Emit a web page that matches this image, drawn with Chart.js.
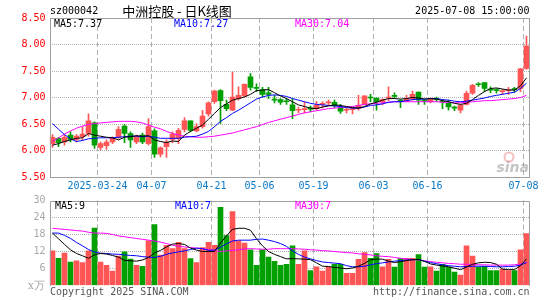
<!DOCTYPE html>
<html lang="zh">
<head>
<meta charset="UTF-8">
<title>中洲控股 - 日K线图</title>
<script src="https://cdn.jsdelivr.net/npm/chart.js@4"></script>
<style>
html,body{margin:0;padding:0;background:#fff}
#wrap{position:relative;width:545px;height:300px;overflow:hidden}
#wrap canvas{position:absolute;left:0;top:0}
</style>
</head>
<body>
<div id="wrap"><canvas id="kline" width="545" height="300"></canvas><canvas id="vol" width="545" height="300"></canvas></div>
<script>
const dates=['2025-03-12','2025-03-13','2025-03-14','2025-03-17','2025-03-18','2025-03-19','2025-03-20','2025-03-21','2025-03-24','2025-03-25',
'2025-03-26','2025-03-27','2025-03-28','2025-03-31','2025-04-01','2025-04-02','2025-04-03','2025-04-07','2025-04-08','2025-04-09',
'2025-04-10','2025-04-11','2025-04-14','2025-04-15','2025-04-16','2025-04-17','2025-04-18','2025-04-21','2025-04-22','2025-04-23',
'2025-04-24','2025-04-25','2025-04-28','2025-04-29','2025-04-30','2025-05-06','2025-05-07','2025-05-08','2025-05-09','2025-05-12',
'2025-05-13','2025-05-14','2025-05-15','2025-05-16','2025-05-19','2025-05-20','2025-05-21','2025-05-22','2025-05-23','2025-05-26',
'2025-05-27','2025-05-28','2025-05-29','2025-05-30','2025-06-03','2025-06-04','2025-06-05','2025-06-06','2025-06-09','2025-06-10',
'2025-06-11','2025-06-12','2025-06-13','2025-06-16','2025-06-17','2025-06-18','2025-06-19','2025-06-20','2025-06-23','2025-06-24',
'2025-06-25','2025-06-26','2025-06-27','2025-06-30','2025-07-01','2025-07-02','2025-07-03','2025-07-04','2025-07-07','2025-07-08'];

const open=[6.13,6.23,6.16,6.29,6.21,6.26,6.32,6.52,6.06,6.09, 6.16,6.25,6.46,6.32,6.16,6.29,6.13,6.37,5.93,6.07,
6.21,6.23,6.40,6.56,6.37,6.45,6.69,6.92,7.13,6.87, 6.76,6.98,7.03,7.39,7.19,7.15,7.09,6.96,6.96,6.93,
6.86,6.76,6.77,6.79,6.79,6.87,6.90,6.91,6.82,6.76, 6.77,6.79,6.87,7.00,6.99,6.92,6.99,7.03,6.94,6.94,
6.98,7.10,6.94,6.92,6.97,6.92,6.89,6.81,6.76,6.87, 7.08,7.25,7.28,7.15,7.14,7.11,7.13,7.16,7.17,7.55];
const close=[6.25,6.15,6.25,6.21,6.27,6.31,6.56,6.10,6.13,6.16, 6.23,6.40,6.32,6.20,6.26,6.16,6.45,5.93,6.05,6.16,
6.31,6.38,6.56,6.38,6.45,6.65,6.90,7.12,6.94,6.79, 7.01,7.04,7.25,7.19,7.17,7.06,7.06,6.95,6.91,6.92,
6.75,6.77,6.79,6.78,6.85,6.89,6.91,6.85,6.74,6.77, 6.78,6.85,7.03,6.99,6.92,6.96,7.00,7.02,6.93,6.98,
7.06,6.95,6.93,6.97,6.96,6.91,6.82,6.80,6.85,7.08, 7.23,7.24,7.17,7.14,7.13,7.13,7.14,7.15,7.54,7.97];
const high=[6.30,6.25,6.29,6.35,6.30,6.45,6.69,6.54,6.16,6.20, 6.26,6.45,6.49,6.35,6.29,6.33,6.60,6.41,6.07,6.20,
6.35,6.42,6.62,6.56,6.51,6.76,6.92,7.14,7.15,6.95, 7.48,7.20,7.26,7.45,7.26,7.19,7.19,7.04,6.98,6.98,
6.98,6.82,6.92,6.84,6.93,6.92,6.95,6.95,6.87,6.81, 6.81,7.04,7.03,7.06,6.99,6.98,7.20,7.09,6.96,7.04,
7.12,7.10,6.96,6.99,7.01,6.96,6.95,6.84,6.87,7.12, 7.25,7.28,7.28,7.20,7.17,7.15,7.19,7.19,7.55,8.16];
const low=[6.06,6.07,6.10,6.16,6.16,6.20,6.27,6.04,6.01,6.02, 6.13,6.23,6.15,6.06,6.13,6.13,6.10,5.87,5.88,5.87,
6.15,6.13,6.35,6.35,6.35,6.42,6.65,6.89,6.51,6.75, 6.75,6.95,7.01,7.14,7.11,7.01,6.98,6.90,6.87,6.87,
6.60,6.71,6.71,6.73,6.76,6.80,6.86,6.81,6.70,6.71, 6.69,6.76,6.86,6.92,6.76,6.86,6.94,6.98,6.81,6.92,
6.95,6.87,6.87,6.90,6.92,6.79,6.76,6.75,6.71,6.86, 7.06,7.21,7.11,7.09,7.08,7.06,7.06,7.10,7.11,7.53];

const ma5=[6.10,6.13,6.17,6.20,6.23,6.24,6.32,6.29,6.27,6.25, 6.24,6.20,6.25,6.26,6.28,6.27,6.28,6.20,6.17,6.15,
6.18,6.17,6.29,6.36,6.42,6.48,6.59,6.70,6.81,6.88, 6.95,6.98,7.01,7.06,7.13,7.14,7.15,7.09,7.03,6.98,
6.92,6.86,6.83,6.80,6.79,6.82,6.84,6.86,6.85,6.83, 6.81,6.80,6.83,6.88,6.91,6.95,6.98,6.98,6.97,6.98,
7.00,6.99,6.97,6.98,6.97,6.94,6.92,6.89,6.87,6.89, 6.96,7.04,7.11,7.17,7.18,7.16,7.14,7.14,7.22,7.37];
const ma10=[6.51,6.40,6.30,6.22,6.17,6.19,6.22,6.23,6.24,6.24, 6.24,6.25,6.26,6.27,6.27,6.26,6.27,6.25,6.23,6.23,
6.23,6.23,6.25,6.26,6.27,6.31,6.36,6.45,6.55,6.62, 6.70,6.76,6.83,6.90,6.97,7.01,7.04,7.05,7.04,7.02,
6.98,6.95,6.92,6.89,6.87,6.86,6.85,6.84,6.83,6.81, 6.80,6.80,6.82,6.85,6.86,6.88,6.91,6.92,6.92,6.94,
6.96,6.97,6.97,6.98,6.98,6.96,6.95,6.93,6.92,6.93, 6.95,6.97,6.99,7.02,7.04,7.06,7.08,7.10,7.17,7.27];
const ma30=[6.17,6.24,6.31,6.37,6.42,6.46,6.49,6.51,6.52,6.53, 6.54,6.55,6.55,6.55,6.54,6.52,6.48,6.44,6.41,6.36,
6.32,6.29,6.27,6.26,6.25,6.25,6.26,6.27,6.29,6.31, 6.33,6.36,6.39,6.42,6.45,6.49,6.53,6.56,6.59,6.62,
6.65,6.68,6.71,6.73,6.75,6.77,6.79,6.80,6.81,6.82, 6.83,6.85,6.87,6.88,6.89,6.90,6.91,6.92,6.92,6.92,
6.92,6.92,6.92,6.92,6.92,6.91,6.91,6.90,6.90,6.91, 6.92,6.93,6.94,6.94,6.95,6.96,6.97,6.98,7.00,7.04];

// volume, 万手
const volume=[12.2,9.6,11.4,8.3,8.7,8.1,12.2,20.3,8.3,7.1, 5.1,10.4,11.9,9.3,7.1,6.8,15.8,21.5,10.7,14.2,
13.0,15.2,13.0,9.5,8.1,13.4,15.2,14.2,27.6,17.6, 26.1,15.8,15.0,12.6,7.1,12.6,10.0,8.5,7.1,7.5,
14.0,7.5,12.2,5.3,6.6,5.1,6.5,7.5,7.5,4.3, 4.3,9.2,11.6,9.6,11.3,6.6,9.2,6.5,9.6,9.6,
9.6,10.9,6.5,6.6,5.1,7.5,6.5,4.7,3.7,14.0, 10.4,6.5,6.8,5.3,5.3,5.7,5.3,5.3,12.6,18.3];
const volMa5=[18.5,16.5,14.5,12.6,11.3,10.5,9.6,10.8,11.3,11.1, 10.6,10.0,8.9,8.7,8.6,9.0,9.9,11.5,12.4,13.6,
14.6,14.8,14.5,13.2,12.5,12.0,12.0,12.0,15.0,17.5, 19.8,20.2,20.2,19.5,16.5,14.0,12.0,11.0,10.2,9.4,
9.5,9.4,9.3,9.1,8.0,6.8,6.7,6.4,6.2,5.9, 6.2,6.8,7.8,9.1,9.3,9.3,8.6,8.1,8.4,8.8,
9.1,9.2,8.5,7.6,7.2,6.9,6.6,6.1,5.6,6.5, 7.5,8.0,8.2,8.1,7.5,5.8,5.6,5.6,7.0,9.4];
const volMa10=[18.5,18.5,17.7,16.6,15.2,14.0,12.7,11.8,11.4,11.3, 11.1,11.0,10.8,10.6,10.5,10.2,10.0,9.9,10.3,11.0,
11.5,11.9,12.2,12.7,13.2,13.0,12.4,12.5,13.5,14.7, 15.7,16.0,16.0,16.0,16.3,16.4,16.0,15.5,14.8,13.8,
12.2,11.0,10.0,9.4,8.8,8.3,8.1,7.9,7.7,7.0, 6.6,6.6,6.8,7.3,7.7,8.0,8.3,8.6,8.8,9.0,
9.1,9.2,8.6,8.1,7.7,7.3,7.0,6.8,6.6,6.7, 6.8,6.8,6.8,6.7,6.6,6.6,6.7,6.8,7.2,8.1];
const volMa30=[20.2,20.0,19.8,19.6,19.4,19.2,18.8,18.5,18.5,18.4, 18.0,17.5,17.2,16.9,16.6,16.3,16.0,15.7,15.3,14.8,
14.2,13.9,13.6,13.4,13.2,13.0,12.7,12.3,12.0,12.2, 12.4,12.6,12.9,13.0,12.9,12.8,12.8,13.0,13.0,13.0,
13.0,12.9,12.8,12.6,12.5,12.3,12.2,12.0,11.8,11.6, 11.5,11.2,11.0,10.8,10.5,10.3,10.2,9.9,9.6,9.4,
9.2,9.0,8.7,8.4,8.2,8.0,7.8,7.7,7.5,7.5, 7.4,7.3,7.3,7.2,7.2,7.2,7.2,7.3,7.6,8.1];

const tickDates=['2025-03-24','2025-04-07','2025-04-21','2025-05-06','2025-05-19','2025-06-03','2025-06-16','2025-07-08'];
const tickLabels=['2025-03-24','04-07','04-21','05-06','05-19','06-03','06-16','07-08'];
const priceTicks=[5.5,8.5,0.5];   // min, max, step
const volTicks=[0,30,6];

const RED='#ff5555',GREEN='#00a000';
const MONO='"DejaVu Sans Mono", monospace';
const CLEAR='rgba(0,0,0,0)';

const colors=dates.map((d,i)=>close[i]>=open[i]?RED:GREEN);
const bodies=dates.map((d,i)=>[open[i],close[i]]);
const wicks=dates.map((d,i)=>[low[i],high[i]]);
const vGrid=ctx=>tickDates.includes(dates[ctx.index])?'#b0b0b0':CLEAR;

function lineDs(data,color){return {type:'line',data,borderColor:color,borderWidth:1,pointRadius:0,tension:0,fill:false};}

function txt(c,s,x,y,color,font,align){c.fillStyle=color;c.font=font;c.textAlign=align||'left';c.textBaseline='middle';c.fillText(s,x,y);}

const klineDecor={id:'klineDecor',
  beforeDatasetsDraw(chart){
    const c=chart.ctx;
    c.save();
    c.strokeStyle='rgba(235,130,130,0.5)';c.lineWidth=2;
    c.beginPath();c.arc(509,157,4.5,0,Math.PI*2);c.stroke();
    c.fillStyle='rgba(150,150,150,0.55)';c.font='italic bold 14px "DejaVu Sans"';
    c.textAlign='right';c.textBaseline='alphabetic';c.fillText('sina',529,172);
    c.restore();
  },
  afterDraw(chart){
    const c=chart.ctx,a=chart.chartArea;
    c.save();
    c.strokeStyle='#a0a0a0';c.lineWidth=1;
    c.strokeRect(a.left+1,a.top+0.5,a.right-a.left-1,a.bottom-a.top);
    txt(c,'sz000042',50,11.5,'#000','10px '+MONO);
    txt(c,'中洲控股 - 日K线图',177,11,'#000','13px "Noto Sans CJK SC"','center');
    txt(c,'2025-07-08 15:00:00',529.5,11.5,'#000','10px '+MONO,'right');
    txt(c,'MA5:'+ma5[ma5.length-1].toFixed(2),54,24,'#000','10px '+MONO);
    txt(c,'MA10:'+ma10[ma10.length-1].toFixed(2),174,24,'#0000ff','10px '+MONO);
    txt(c,'MA30:'+ma30[ma30.length-1].toFixed(2),295,24,'#ff00ff','10px '+MONO);
    c.restore();
  }
};

const volDecor={id:'volDecor',
  afterDraw(chart){
    const c=chart.ctx,a=chart.chartArea;
    c.save();
    c.strokeStyle='#a0a0a0';c.lineWidth=1;
    c.beginPath();
    c.moveTo(a.left+1,a.bottom+0.5);c.lineTo(a.left+1,a.top+1);c.lineTo(a.right,a.top+1);c.lineTo(a.right,a.bottom+0.5);
    c.stroke();
    txt(c,'MA5:9',55,206,'#000','10px '+MONO);
    txt(c,'MA10:7',175,206,'#0000ff','10px '+MONO);
    txt(c,'MA30:7',295,206,'#ff00ff','10px '+MONO);
    txt(c,'x万',45,286,'#aaa','11px "DejaVu Serif"','right');
    txt(c,'Copyright 2025 SINA.COM',50,292.5,'#555','10px '+MONO);
    txt(c,'http://finance.sina.com.cn',529.5,292.5,'#555','10px '+MONO,'right');
    c.restore();
  }
};

const common={responsive:false,animation:false,events:[],
  plugins:{legend:{display:false},tooltip:{enabled:false}}};

new Chart(document.getElementById('kline'),{
  type:'bar',
  data:{labels:dates,datasets:[
    lineDs(ma5,'#000000'),lineDs(ma10,'#0000ff'),lineDs(ma30,'#ff00ff'),
    {data:bodies,backgroundColor:colors,barThickness:5,minBarLength:1,grouped:false,borderWidth:0},
    {data:wicks,backgroundColor:colors,barThickness:1,grouped:false,borderWidth:0}
  ]},
  options:{...common,
    layout:{padding:{top:18,left:0,right:15.5,bottom:103}},
    scales:{
      x:{offset:true,grid:{offset:true,color:vGrid,drawTicks:false},border:{display:false,dash:[5,3]},
        ticks:{autoSkip:false,maxRotation:0,padding:3,labelOffset:-3,color:'#0a78c8',font:{family:MONO,size:10},
          callback:(v,i)=>tickLabels[tickDates.indexOf(dates[i])]||''},
        afterFit:s=>{s.height=20;s.paddingLeft=0;s.paddingRight=0;}},
      y:{min:priceTicks[0],max:priceTicks[1],
        ticks:{stepSize:priceTicks[2],padding:4,color:'#ff0000',font:{family:MONO,size:10},callback:v=>v.toFixed(2)},
        grid:{color:ctx=>ctx.tick&&(ctx.tick.value<=priceTicks[0]||ctx.tick.value>=priceTicks[1])?CLEAR:'#b0b0b0',drawTicks:false},
        border:{display:false,dash:[1,1]},
        afterFit:s=>{s.width=49.5;s.paddingTop=0;s.paddingBottom=0;}}
    }},
  plugins:[klineDecor]
});

new Chart(document.getElementById('vol'),{
  type:'bar',
  data:{labels:dates,datasets:[
    lineDs(volMa5,'#000000'),lineDs(volMa10,'#0000ff'),lineDs(volMa30,'#ff00ff'),
    {data:volume,backgroundColor:colors,barThickness:5,grouped:false,borderWidth:0}
  ]},
  options:{...common,
    layout:{padding:{top:200.5,left:0,right:15.5,bottom:14.5}},
    scales:{
      x:{offset:true,grid:{offset:true,color:vGrid,drawTicks:false},border:{display:false,dash:[5,3]},
        ticks:{display:false},
        afterFit:s=>{s.height=0;s.paddingLeft=0;s.paddingRight=0;}},
      y:{min:volTicks[0],max:volTicks[1],
        ticks:{stepSize:volTicks[2],padding:4,color:'#a8a8a8',font:{family:MONO,size:10},callback:v=>v===0?'':v},
        grid:{color:ctx=>ctx.tick&&(ctx.tick.value<=volTicks[0]||ctx.tick.value>=volTicks[1])?CLEAR:'#b0b0b0',drawTicks:false},
        border:{display:false,dash:[1,1]},
        afterFit:s=>{s.width=49.5;s.paddingTop=0;s.paddingBottom=0;}}
    }},
  plugins:[volDecor]
});
</script>
</body>
</html>
